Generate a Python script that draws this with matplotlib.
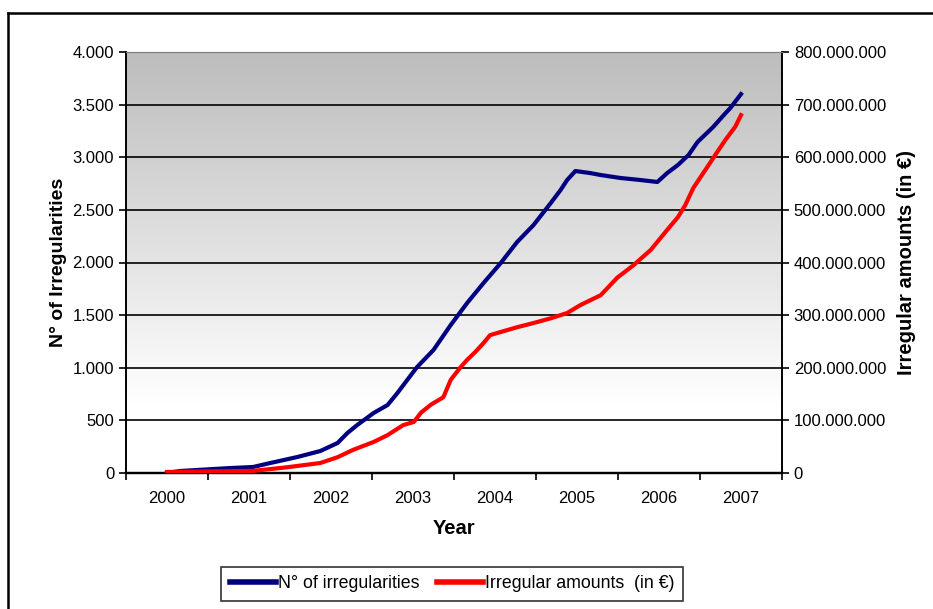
import numpy as np
import matplotlib
matplotlib.use("Agg")
import matplotlib.pyplot as plt
from matplotlib.lines import Line2D
from matplotlib.ticker import FuncFormatter, FixedLocator

plt.rcParams['font.family'] = ['Liberation Sans', 'DejaVu Sans']

# Data (decimal years)
years_count = [2000.00, 2000.16, 2000.77, 2001.05, 2001.26, 2001.59, 2001.87, 2002.08,
               2002.20, 2002.32, 2002.52, 2002.69, 2002.81, 2002.93, 2003.05, 2003.25,
               2003.46, 2003.66, 2003.86, 2004.07, 2004.27, 2004.47, 2004.68, 2004.80,
               2004.88, 2004.98, 2005.16, 2005.29, 2005.53, 2005.77, 2005.98, 2006.10,
               2006.23, 2006.36, 2006.47, 2006.66, 2006.79, 2006.87, 2007.00]
n_irregularities = [0, 19, 47, 57, 95, 152, 209, 285, 380, 456, 570, 646, 760, 884, 1007,
                    1169, 1406, 1615, 1805, 1995, 2195, 2356, 2565, 2689, 2784, 2869, 2850,
                    2831, 2803, 2784, 2765, 2850, 2926, 3021, 3145, 3287, 3401, 3468, 3600]

years_amount = [2000.00, 2001.05, 2001.47, 2001.87, 2002.08, 2002.27, 2002.52, 2002.69,
                2002.88, 2003.01, 2003.10, 2003.22, 2003.37, 2003.46, 2003.58, 2003.66,
                2003.76, 2003.86, 2003.94, 2004.07, 2004.27, 2004.47, 2004.68, 2004.88,
                2005.04, 2005.29, 2005.49, 2005.69, 2005.90, 2006.10, 2006.23, 2006.32,
                2006.42, 2006.54, 2006.63, 2006.71, 2006.81, 2006.93, 2007.00]
amounts_meur = [2, 4, 11, 19, 30, 44, 59, 72, 91, 97, 115, 130, 144, 177, 201, 215, 230,
                247, 262, 268, 277, 285, 294, 304, 319, 338, 371, 395, 424, 462, 486, 509,
                542, 570, 591, 610, 633, 658, 680]

year_labels = ['2000', '2001', '2002', '2003', '2004', '2005', '2006', '2007']

fmt = FuncFormatter(lambda v, p: f"{int(round(v)):,}".replace(",", "."))

fig = plt.figure(figsize=(9.33, 6.09), dpi=100)
ax = fig.add_axes([126 / 933, 1 - 473 / 609, 656 / 933, 421 / 609])
ax2 = ax.twinx()

# gradient background, grey at the top fading to white near the bottom
grad = np.clip(np.linspace(0.74, 1.05, 256), 0, 1).reshape(-1, 1)
ax.imshow(np.dstack([grad, grad, grad]), extent=[0, 1, 0, 1], transform=ax.transAxes,
          aspect='auto', zorder=0, origin='upper')

x_count = np.array(years_count) - 2000
x_amount = np.array(years_amount) - 2000

ax.plot(x_count, n_irregularities, color='#000080', lw=3, zorder=3,
        label='N° of irregularities')
ax2.plot(x_amount, np.array(amounts_meur) * 1e6, color='#ff0000', lw=3, zorder=3,
         label='Irregular amounts  (in €)')

ax.set_xlim(-0.5, 7.5)
ax.set_ylim(0, 4000)
ax2.set_ylim(0, 800e6)
ax.set_yticks(np.arange(0, 4001, 500))
ax2.set_yticks(np.arange(0, 800e6 + 1, 100e6))
ax.yaxis.set_major_formatter(fmt)
ax2.yaxis.set_major_formatter(fmt)

ax.xaxis.set_major_locator(FixedLocator(np.arange(-0.5, 8, 1)))
ax.xaxis.set_minor_locator(FixedLocator(np.arange(0, 8, 1)))
ax.set_xticklabels([], minor=False)
ax.set_xticklabels(year_labels, minor=True)
ax.tick_params(axis='x', which='major', length=5, width=1.2, direction='out')
ax.tick_params(axis='x', which='minor', length=0, pad=13, labelsize=12)
ax.tick_params(axis='y', length=5, width=1.2, direction='out', labelsize=12)
ax2.tick_params(axis='y', length=5, width=1.2, direction='out', labelsize=12)

ax.yaxis.grid(True, color='black', lw=1.2)
ax.set_axisbelow(False)
for gl in ax.get_ygridlines():
    gl.set_zorder(1)

for a in (ax, ax2):
    a.spines['top'].set_color('#808080')
    a.spines['left'].set_linewidth(1.2)
    a.spines['right'].set_linewidth(1.2)
    a.spines['bottom'].set_linewidth(1.6)

ax.set_xlabel('Year', fontsize=14.5, fontweight='bold', labelpad=9)
ax.set_ylabel('N° of Irregularities', fontsize=14, fontweight='bold', labelpad=4)
ax2.set_ylabel('Irregular amounts (in €)', fontsize=14.5, fontweight='bold', labelpad=8)

h1, l1 = ax.get_legend_handles_labels()
h2, l2 = ax2.get_legend_handles_labels()
leg = fig.legend(h1 + h2, l1 + l2, loc='center', bbox_to_anchor=(452 / 933, 1 - 584 / 609),
                 ncol=2, frameon=True, fancybox=False, edgecolor='black', fontsize=12.8,
                 handlelength=2.6, handletextpad=0.1, columnspacing=1.0, borderpad=0.5)
leg.get_frame().set_linewidth(1.2)
for ln in leg.get_lines():
    ln.set_linewidth(4)

# outer border of the chart area
fig.add_artist(Line2D([8 / 933, 8 / 933], [0, 1 - 13 / 609], color='black', lw=1.8))
fig.add_artist(Line2D([8 / 933, 1], [1 - 13 / 609, 1 - 13 / 609], color='black', lw=1.8))

fig.savefig('out.png', dpi=100)
